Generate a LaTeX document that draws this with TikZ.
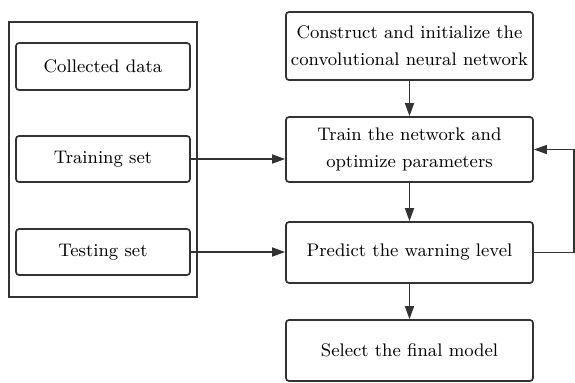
\documentclass[tikz,border=0pt]{standalone}
\usetikzlibrary{arrows.meta}
\definecolor{linegray}{HTML}{333333}

\begin{document}
\begin{tikzpicture}[x=0.5pt, y=-0.5pt,
    font=\fontsize{9.1}{13.5}\selectfont,
    box/.style={draw=linegray, line width=0.85pt, rounded corners=1.5pt, align=center, inner sep=0pt},
    flow/.style={draw=linegray, line width=0.8pt, -{Triangle[length=6.5pt, width=4.5pt]}}]

      \useasboundingbox (0,0) rectangle (575,382);

      \node[draw=linegray, line width=0.85pt, minimum width=94pt, minimum height=137.5pt] (data) at (103,159.5) {}; % data group
      \node[box, minimum width=87pt, minimum height=23.5pt] (collected) at (103,66.5) {Collected data};
      \node[box, minimum width=87pt, minimum height=23pt] (training) at (103,159) {Training set};
      \node[box, minimum width=87pt, minimum height=23pt] (testing) at (103,252) {Testing set};

      \node[box, minimum width=123.5pt, minimum height=34pt] (build) at (409.5,46) {Construct and initialize the\\convolutional neural network};
      \node[box, minimum width=123.5pt, minimum height=32.5pt] (train) at (409.5,149.5) {Train the network and\\optimize parameters};
      \node[box, minimum width=123.5pt, minimum height=30.5pt] (predict) at (409.5,252.5) {Predict the warning level};
      \node[box, minimum width=123.5pt, minimum height=30.5pt] (select) at (409.5,350.5) {Select the final model};

      \draw[flow] (build) -- (train);
      \draw[flow] (train) -- (predict);
      \draw[flow] (predict) -- (select);

      \draw[flow] (training.east) -- (training.east -| train.west);
      \draw[flow] (testing.east) -- (testing.east -| predict.west);

      \coordinate (loop) at (574,252.5); % feedback corner
      \draw[flow] (predict.east) -- (loop) |- (train.east);

\end{tikzpicture}
\end{document}
